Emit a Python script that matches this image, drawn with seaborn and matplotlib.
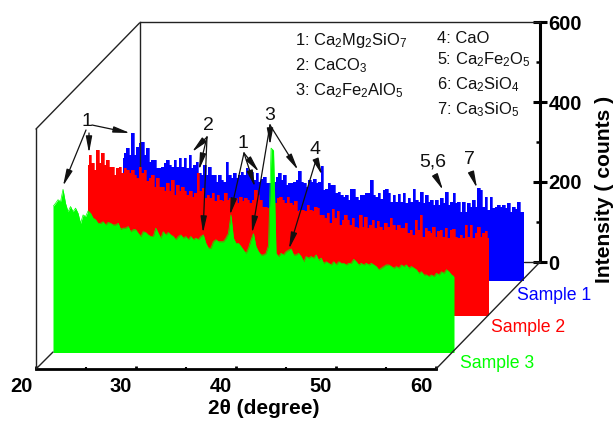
"""
plot.py
Stacked XRD patterns (three samples) drawn as a pseudo-3D waterfall.
Writes out.png
"""

import numpy as np
import matplotlib
matplotlib.use("Agg")
import matplotlib.pyplot as plt
from matplotlib.transforms import ScaledTranslation
import seaborn as sns

# ---------------------------------------------------------------------------
# DATA (counts, about 0.25 degree apart)
# ---------------------------------------------------------------------------
sample_1 = [307, 319, 332, 315, 369, 315, 336, 344, 348, 315, 332, 298, 302, 302, 282, 282,
            286, 294, 302, 290, 286, 302, 286, 307, 286, 307, 282, 315, 282, 290, 298, 269,
            265, 290, 265, 286, 265, 265, 248, 265, 252, 248, 298, 265, 257, 269, 257, 265,
            273, 265, 282, 265, 273,
            252, 269, 248, 256, 260, 244, 244, 244, 248, 260, 269, 252, 265, 240, 244, 244,
            248, 252, 275, 248, 244, 235, 252, 248, 256, 244, 248, 287, 227, 231, 244, 240,
            240, 219, 223, 215, 210, 215, 202, 231, 231, 210, 202, 215, 215, 219, 219, 252,
            215, 210, 219, 206, 227, 229, 219,
            198, 215, 198, 218, 198, 219, 194, 207, 198, 230, 203, 198, 223, 194, 215, 198,
            203, 190, 203, 190, 207, 194, 223, 190, 198, 219, 194, 198, 173, 198, 173, 194,
            186, 203, 186, 232, 228, 186, 211, 178, 211, 182, 186, 190, 186, 190, 182, 194,
            173, 186, 179, 198, 173, 172]

sample_2 = [380, 404, 384, 367, 417, 384, 409, 380, 392, 375, 375, 355, 371, 375, 359, 371,
            367, 359, 367, 355, 346, 375, 359, 367, 338, 346, 355, 325, 346, 325, 325, 313,
            334, 313, 342, 305, 330, 313, 325, 313, 305, 313, 300, 309, 359, 313, 321, 296,
            305, 296, 309, 288, 305, 292, 288, 309, 292, 296, 292, 296, 284, 300, 288, 296,
            292, 284, 292, 317, 305, 292, 275,
            275, 271, 275, 284, 284, 296, 300, 292, 284, 300, 284, 280, 288, 263, 267, 267,
            263, 280, 267, 263, 275, 271, 255, 255, 246, 259, 234, 269, 246, 263, 230, 242,
            255, 242, 230, 246, 225, 221, 255, 225, 250, 221, 230, 242, 221, 238, 225, 217,
            234, 225, 246, 230, 217, 230, 221, 221, 234, 209, 217, 205, 242, 217, 255, 200,
            221, 213, 209, 225, 200, 213, 217, 200,
            221, 196, 217, 219, 200, 196, 205, 196, 230, 200, 230, 196, 209, 225, 200, 209,
            213, 196]

sample_3 = [365, 373, 382, 377, 408, 373, 352, 365, 352, 361, 348, 323, 344, 340, 354, 348,
            336, 332, 323, 323, 327, 319, 325, 323, 319, 319, 323, 308, 311, 311, 315, 302,
            307, 307, 298, 290, 302, 300, 294, 290, 290, 311, 298, 286, 302, 294, 300, 294,
            290, 282, 290, 294, 286, 290, 282, 290, 282, 286, 282, 290, 294, 273, 261, 261,
            277, 282, 277, 277, 277, 286, 298, 344, 286, 273, 273, 265, 256, 248, 261,
            282, 297, 265, 252, 244, 244, 248, 268, 511, 505, 248, 240, 248, 244, 252, 256,
            259, 244, 244, 248, 240, 227, 240, 236, 240, 236, 244, 231, 236, 223, 227, 223,
            219, 227, 219, 227, 223, 223, 219, 223, 223, 233, 227, 219, 223, 219, 223, 219,
            223, 219, 215, 207, 211, 215, 219, 219, 215, 211, 215, 211, 219, 215, 219, 211,
            215, 211, 207, 198, 202, 194, 194, 190, 194, 190, 198, 194, 202, 198, 207, 202,
            194, 190]

sample_names = ["Sample 1", "Sample 2", "Sample 3"]
sample_colors = ["#0000ff", "#ff0000", "#00ff00"]

x_ticks = [20, 30, 40, 50, 60]
x_minor_ticks = [25, 35, 45, 55]
y_ticks = [0, 200, 400, 600]
y_minor_ticks = [100, 300, 500]

W, H = 616, 421

sns.set_theme(style="white")
plt.rcParams["font.family"] = ["Liberation Sans", "DejaVu Sans"]
plt.rcParams["mathtext.fontset"] = "custom"
plt.rcParams["mathtext.rm"] = "Liberation Sans"

fig = plt.figure(figsize=(W / 100, H / 100), dpi=100)


def px_axes(left, right, bottom, top, z):
    """Axes placed by pixel box (y measured from the top of the image)."""
    ax = fig.add_axes([left / W, 1 - bottom / H, (right - left) / W, (bottom - top) / H])
    ax.set_zorder(z)
    ax.patch.set_visible(False)
    ax.set_xlim(20, 60)
    ax.set_ylim(0, 600)
    return ax


# ---------------------------------------------------------------------------
# THE THREE PATTERNS, each one shifted towards the viewer
# ---------------------------------------------------------------------------
boxes = [(122.5, 523.5, 281, 41, 1), (87.5, 488.5, 316.5, 76.5, 3), (53, 454, 352.5, 112.5, 4)]
styles = ["steps-mid", "steps-mid", "default"]
fill_steps = ["mid", "mid", None]
for values, color, box, style, step in zip([sample_1, sample_2, sample_3], sample_colors, boxes,
                                           styles, fill_steps):
    two_theta = np.linspace(20, 60, len(values))
    ax = px_axes(*box)
    sns.lineplot(x=two_theta, y=values, ax=ax, color=color, lw=0.5, drawstyle=style)
    ax.fill_between(two_theta, 0, values, color=color, lw=0, step=step)
    ax.set_axis_off()

# ---------------------------------------------------------------------------
# AXES
# ---------------------------------------------------------------------------
# back wall, carries the intensity axis
back = px_axes(139.5, 540, 262, 22, 2)
for side in ["left", "top"]:
    back.spines[side].set_visible(True)
    back.spines[side].set_linewidth(1.0)
    back.spines[side].set_color("#222222")
back.spines["bottom"].set_visible(False)
back.spines["right"].set_visible(True)
back.spines["right"].set_linewidth(2.2)
back.spines["right"].set_color("black")
back.set_xticks([])
back.yaxis.tick_right()
back.set_yticks(y_ticks)
back.set_yticks(y_minor_ticks, minor=True)
back.tick_params(axis="y", which="major", direction="inout", length=10, width=2.2, color="black",
                 pad=1, labelsize=14.5, labelcolor="black", right=True)
back.tick_params(axis="y", which="minor", direction="in", length=3, width=1.8, color="black", right=True)
for label in back.get_yticklabels():
    label.set_fontweight("bold")

# front edge, carries the 2theta axis
front = px_axes(36, 436, 369, 129, 5)
for side in ["top", "right", "left"]:
    front.spines[side].set_visible(False)
front.spines["bottom"].set_visible(True)
front.spines["bottom"].set_linewidth(2.0)
front.spines["bottom"].set_color("black")
front.spines["left"].set_visible(True)
front.spines["left"].set_linewidth(1.0)
front.spines["left"].set_color("#222222")
front.set_yticks([])
front.set_xticks(x_ticks)
front.set_xticks(x_minor_ticks, minor=True)
front.tick_params(axis="x", which="major", direction="in", length=2, width=2, color="black",
                  pad=6, labelsize=14.5, labelcolor="black", bottom=True)
front.tick_params(axis="x", which="minor", direction="in", length=1.5, width=1.5, color="black", bottom=True)
shift = ScaledTranslation(-15 / 100, 0, fig.dpi_scale_trans)
for label in front.get_xticklabels():
    label.set_fontweight("bold")
    label.set_transform(label.get_transform() + shift)

# ---------------------------------------------------------------------------
# OVERLAY in image pixels: frame edges, labels and arrows
# ---------------------------------------------------------------------------
top = fig.add_axes([0, 0, 1, 1])
top.set_zorder(6)
top.patch.set_visible(False)
top.set_xlim(0, W)
top.set_ylim(H, 0)
top.set_axis_off()

frame_kw = dict(color="#222222", lw=1.0, solid_capstyle="round")
top.plot([36, 139.5], [129, 23], **frame_kw)
top.plot([36, 53], [369, 352], **frame_kw)
top.plot([436, 540], [369, 262], **frame_kw)
top.plot([523.5, 540], [262, 262], **frame_kw)

top.text(604, 189, "Intensity ( counts )", rotation=90, ha="center", va="center",
         fontsize=15.2, fontweight="bold", color="black")
top.text(264, 409, "2θ (degree)", ha="center", va="center",
         fontsize=15, fontweight="bold", color="black")

phases_left = [r"1: $\mathregular{Ca_2Mg_2SiO_7}$", r"2: $\mathregular{CaCO_3}$",
               r"3: $\mathregular{Ca_2Fe_2AlO_5}$"]
phases_right = [r"4: CaO", r"5: $\mathregular{Ca_2Fe_2O_5}$", r"6: $\mathregular{Ca_2SiO_4}$",
                r"7: $\mathregular{Ca_3SiO_5}$"]
for text, y in zip(phases_left, [45, 70, 95]):
    top.text(295, y, text, fontsize=11.9, color="#111111", va="baseline")
for text, y in zip(phases_right, [43, 64, 89, 114]):
    top.text(437, y, text, fontsize=11.9, color="#111111", va="baseline")

for name, color, x, y in zip(sample_names, sample_colors, [517, 491, 460], [296, 327, 363]):
    top.text(x, y, name, color=color, fontsize=12.7, va="center")

peak_labels = [("1", 87, 122), ("2", 208, 125), ("1", 243, 143), ("3", 270, 115),
               ("4", 315, 149), ("5,6", 433, 162), ("7", 469, 160)]
for text, x, y in peak_labels:
    top.text(x, y, text, ha="center", va="center", fontsize=14, color="#111111")

arrows = [((86, 130), (63, 186)), ((89, 133), (89, 153)), ((92, 125), (130, 133)),
          ((207, 137), (192, 152)), ((207, 137), (199, 170)), ((207, 137), (203, 233)),
          ((244, 153), (230, 215)), ((244, 153), (255, 187)), ((244, 153), (259, 172)),
          ((270, 125), (270, 145)), ((270, 125), (252, 233)), ((270, 125), (298, 170)),
          ((316, 160), (322, 175)), ((316, 160), (289, 249)),
          ((435, 175), (443, 190)), ((471, 172), (477, 188))]
for start, end in arrows:
    top.annotate("", xy=end, xytext=start,
                 arrowprops=dict(arrowstyle="-|>,head_length=0.9,head_width=0.17", color="#111111",
                                 lw=0.9, shrinkA=0, shrinkB=0, mutation_scale=11))

fig.savefig("out.png", dpi=100)
